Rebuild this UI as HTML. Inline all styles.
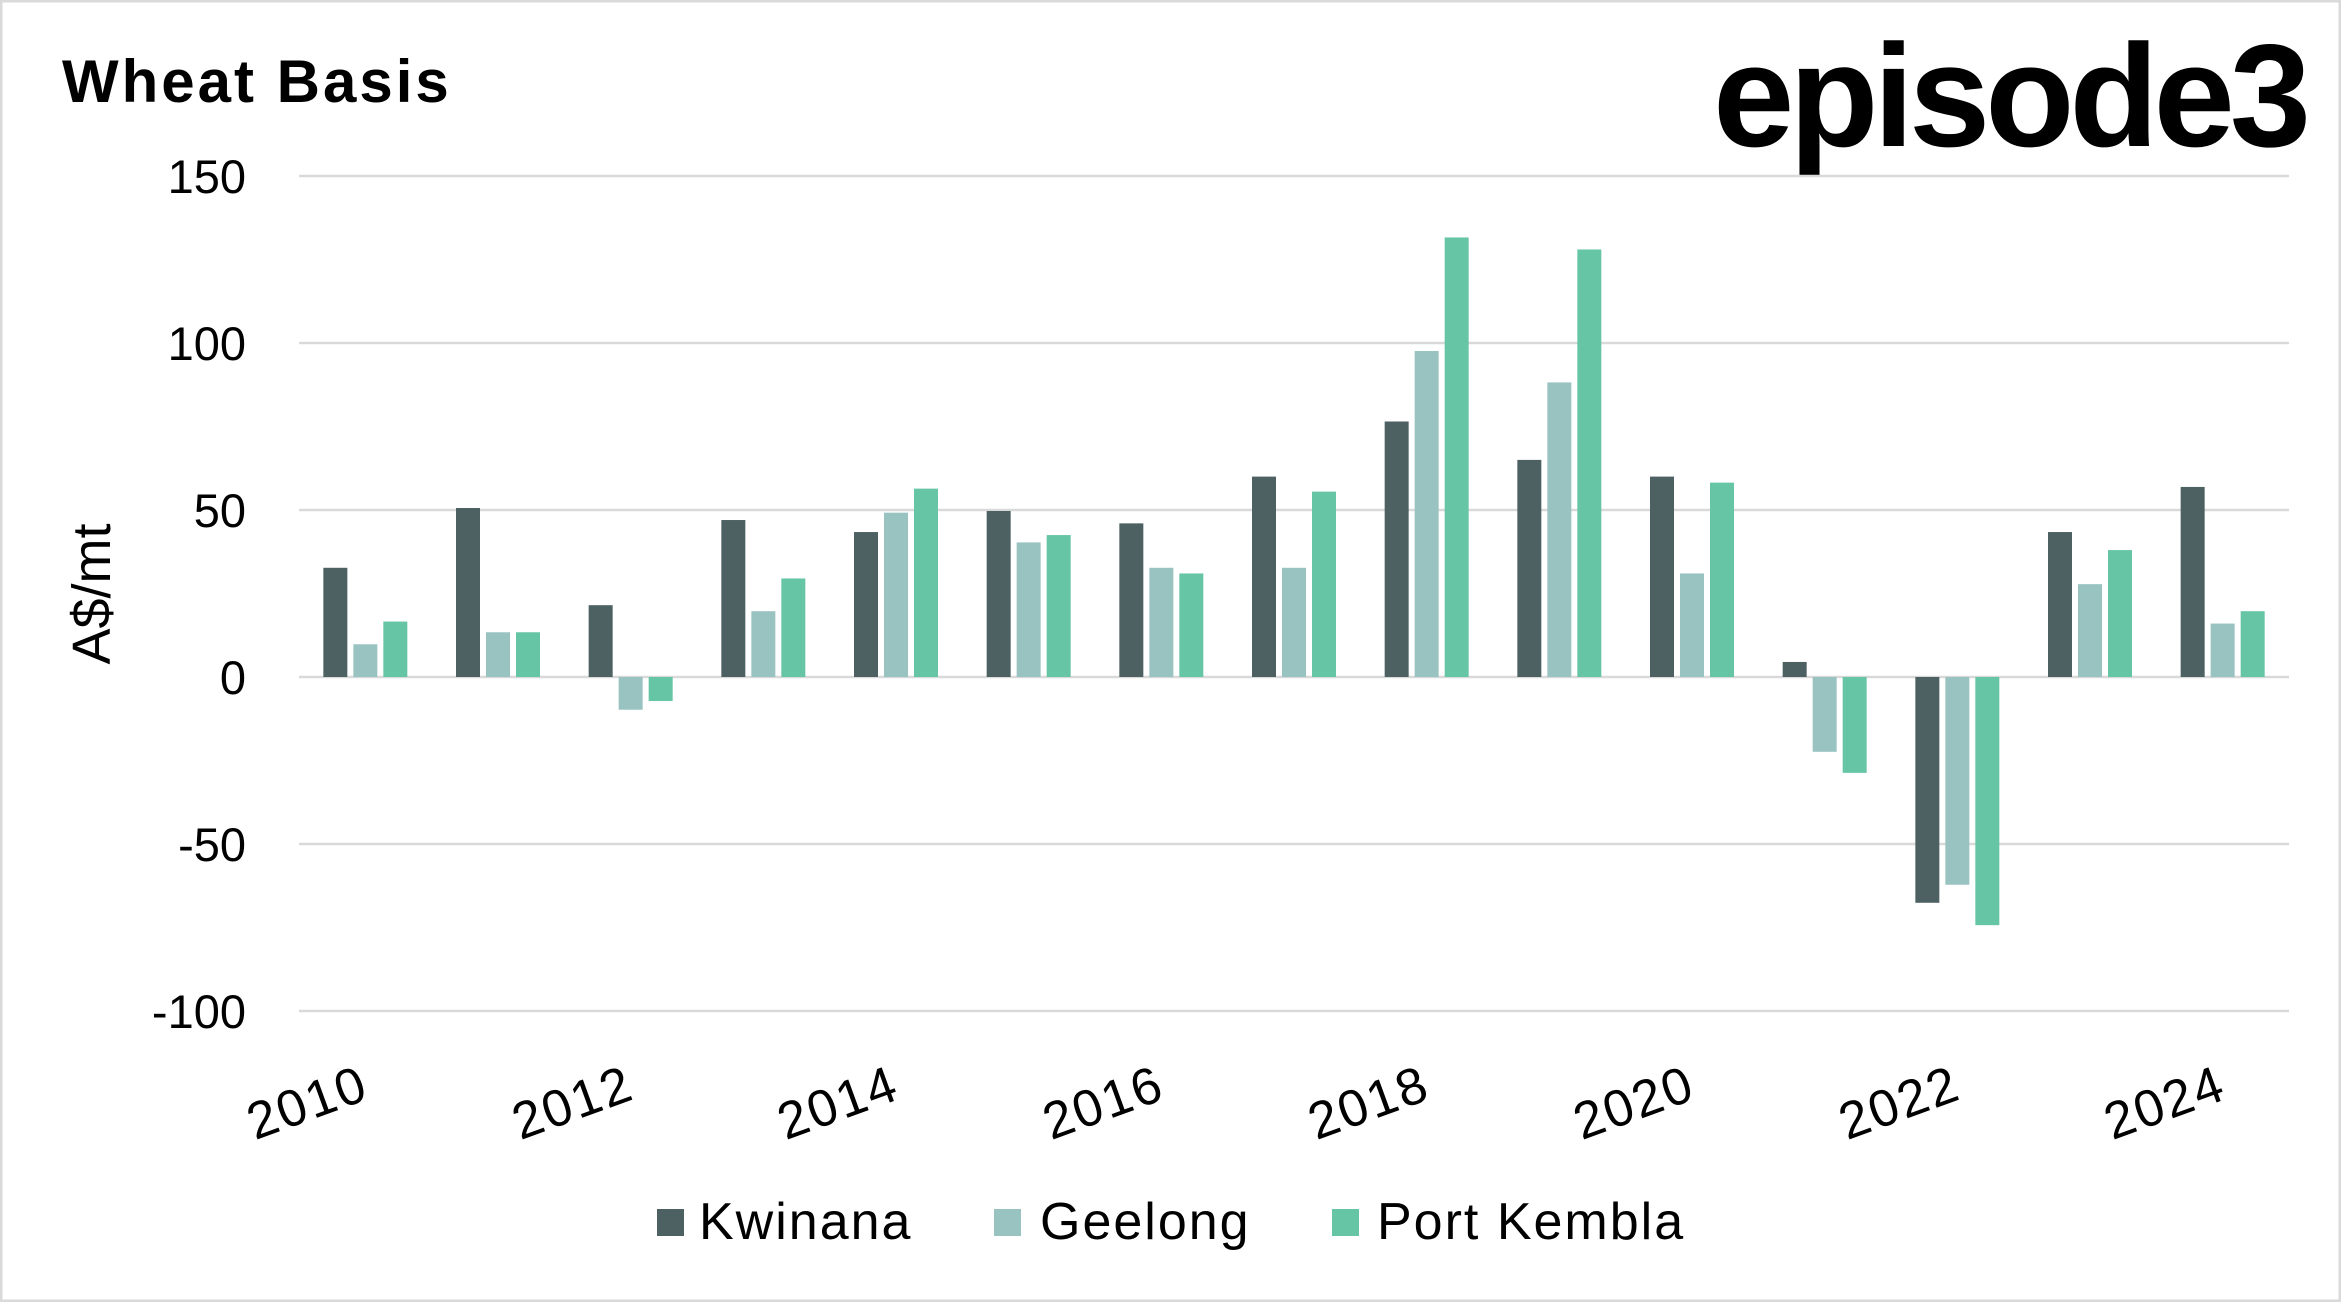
<!DOCTYPE html>
<html><head><meta charset="utf-8"><style>
html,body{margin:0;padding:0;background:#fff}
svg{display:block}
text{font-family:"Liberation Sans",sans-serif}
</style></head><body>
<svg id="chart" width="2341" height="1302" viewBox="0 0 2341 1302">
<rect x="1" y="1" width="2339" height="1300" fill="#fff" stroke="#d9d9d9" stroke-width="3"/>
<text x="62" y="102" font-size="60" font-weight="bold" fill="#000" letter-spacing="3">Wheat Basis</text>
<text x="2306" y="146" font-size="146" font-weight="bold" fill="#000" text-anchor="end" letter-spacing="-5">episode3</text>
<text transform="translate(110,594) rotate(-90)" font-size="54" text-anchor="middle" fill="#000">A$/mt</text>
<g id="grid"></g><g id="bars"></g><g id="xlabels"></g>
<g>
<rect x="657" y="1209" width="27" height="27" fill="#4d6163"/>
<text x="699" y="1239" font-size="52" letter-spacing="2" fill="#000">Kwinana</text>
<rect x="994" y="1209" width="27" height="27" fill="#99c3c1"/>
<text x="1040" y="1239" font-size="52" letter-spacing="2" fill="#000">Geelong</text>
<rect x="1332" y="1209" width="27" height="27" fill="#66c5a5"/>
<text x="1377" y="1239" font-size="52" letter-spacing="2" fill="#000">Port Kembla</text>
</g>
</svg>
<script>
const years = [2010,2011,2012,2013,2014,2015,2016,2017,2018,2019,2020,2021,2022,2023,2024];
const kwinana = [32.7,50.6,21.5,47,43.4,49.7,46,60,76.5,65,60,4.5,-67.6,43.4,56.9];
const geelong = [9.8,13.4,-9.8,19.7,49.2,40.3,32.7,32.7,97.6,88.2,31,-22.4,-62.2,27.8,16];
const portKembla = [16.6,13.4,-7.2,29.5,56.4,42.5,31,55.5,131.6,128,58.2,-28.7,-74.3,38,19.7];
const yTicks = [150,100,50,0,-50,-100];
const xTickLabels = ["2010","2012","2014","2016","2018","2020","2022","2024"];

const NS="http://www.w3.org/2000/svg";
const X0=299, X1=2289, Y150=176, Yn100=1011;
const y = v => Y150 + (150 - v) * (Yn100 - Y150) / 250;
const band = (X1 - X0) / years.length;
const xc = i => X0 + band * (i + 0.5);
function mk(tag, attrs, parent){const e=document.createElementNS(NS,tag);for(const k in attrs)e.setAttribute(k,attrs[k]);parent.appendChild(e);return e;}
const grid=document.getElementById('grid');
yTicks.forEach(t=>{
  const l=mk('line',{x1:X0,x2:X1,y1:y(t),y2:y(t),stroke:'#d9d9d9','stroke-width':2.5},grid);
  
  
  const tx=mk('text',{x:246,y:y(t)+17,'font-size':47,'text-anchor':'end',fill:'#000'},grid);
  tx.textContent=t;
  
  
});
const bars=document.getElementById('bars');
const series=[[kwinana,'#4d6163','kwinana'],[geelong,'#99c3c1','geelong'],[portKembla,'#66c5a5','port-kembla']];
const bw=24, gap=6;
years.forEach((yr,i)=>{
  series.forEach((s,j)=>{
    const v=s[0][i];
    const x=xc(i)+(j-1)*(bw+gap)-bw/2;
    const top=Math.min(y(v),y(0)), h=Math.abs(y(v)-y(0));
    const r=mk('rect',{x:x,y:top,width:bw,height:h,fill:s[1]},bars);
    
    
  });
});
const xl=document.getElementById('xlabels');
xTickLabels.forEach(lbl=>{
  const i=years.indexOf(+lbl);
  const px=xc(i)+6, py=1098;
  const t=mk('text',{x:px,y:py,'font-size':52,'letter-spacing':2,'text-anchor':'end',fill:'#000',transform:`rotate(-20 ${px} ${py})`},xl);
  t.textContent=lbl;
  
  
});
</script>
</body></html>
